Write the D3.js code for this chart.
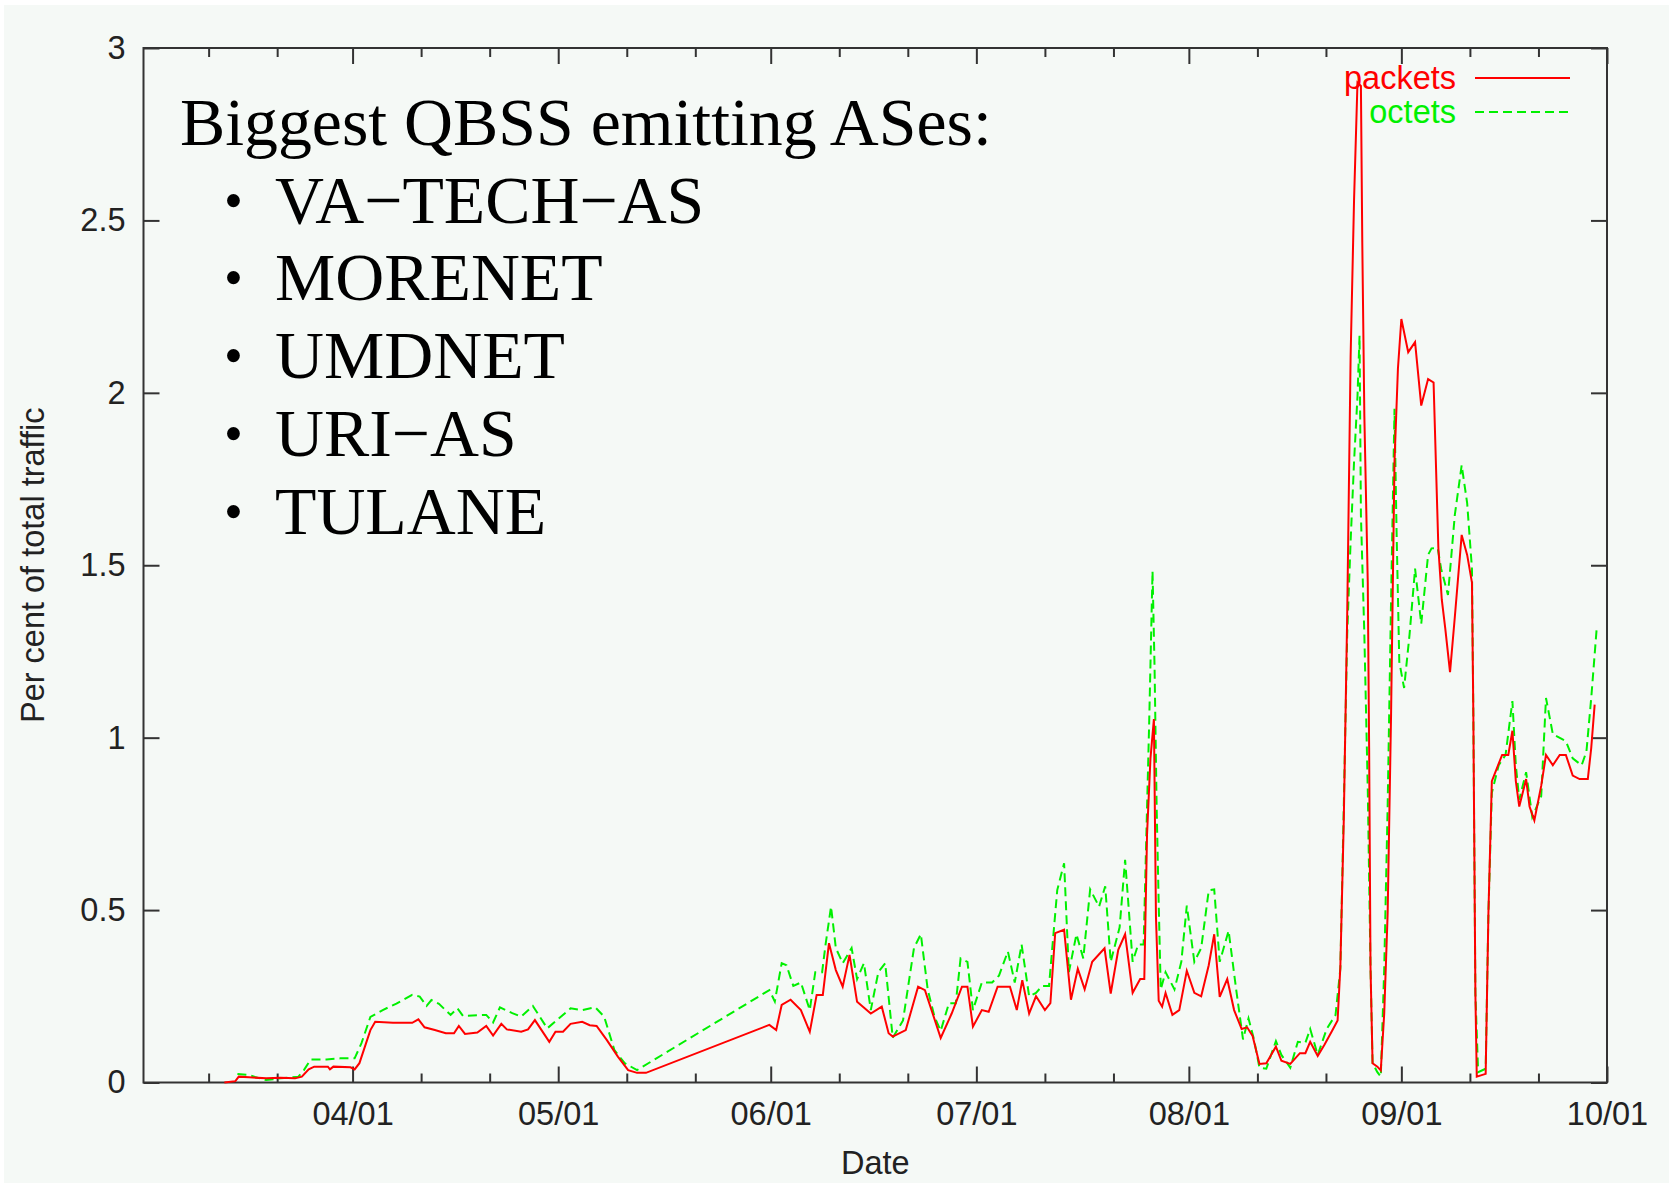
<!DOCTYPE html>
<html>
<head>
<meta charset="utf-8">
<script src="https://cdn.jsdelivr.net/npm/d3@7"></script>
<style>
  body { margin: 0; background: #ffffff; }
  svg { display: block; }
</style>
</head>
<body>
<div id="chart"></div>
<script>
// Days after 1 April (2003)
var packetDays = [-18.7, -17.1, -16.6, -15.1, -12.6, -10.5, -8.4, -7.4, -6.4, -5.6,
  -3.6, -3.3, -2.8, -0.3, 0.3, 1.0, 1.8, 2.6, 3.3, 5.9,
  8.7, 9.6, 10.5, 12.0, 13.6, 14.8, 15.5, 16.4, 18.2, 19.5,
  20.5, 21.7, 22.5, 24.6, 25.6, 26.6, 28.7, 29.6, 30.7, 31.8,
  33.5, 34.6, 35.6, 37.1, 38.7, 40.2, 41.5, 42.8,
  60.8, 61.8, 62.6, 63.9, 65.4, 66.7, 67.7, 68.6, 69.5, 70.5,
  71.5, 72.5, 73.6, 75.6, 77.2, 78.2, 78.8, 80.7, 82.5, 83.5,
  85.8, 87.4, 88.9, 89.7, 90.5, 91.8, 92.8, 94.1, 95.9, 96.9,
  97.7, 98.7, 99.7, 101.0, 101.8, 102.5, 103.8, 104.8, 105.8, 106.8,
  107.9, 109.7, 110.6, 111.7, 112.7, 113.8, 114.9, 115.5, 115.9, 116.4,
  116.9, 117.2, 117.6, 118.1, 118.6, 119.6, 120.6, 121.7, 122.8, 123.8,
  124.9, 125.7, 126.5, 127.6, 128.6, 129.7, 130.5, 131.3, 132.3, 133.3,
  134.7, 135.5, 136.8, 138.2, 139.0, 139.7, 140.8, 141.8, 142.9, 143.7,
  144.1, 144.6, 145.1, 145.6, 146.1, 146.6, 147.1, 147.3, 147.6, 148.1,
  148.3, 148.5, 148.8, 149.5, 150.0, 150.5, 151.0, 151.5, 152.0, 152.5,
  153.0, 154.0, 155.0, 155.9, 156.9, 157.7, 158.4, 158.9, 159.4, 160.1,
  160.8, 161.8, 162.6, 163.3, 163.5, 163.8, 164.0, 165.3, 165.7, 166.2,
  167.7, 168.6, 169.2, 169.7, 170.2, 171.2, 171.7, 172.4, 173.4, 174.1,
  175.1, 176.1, 177.0, 178.0, 179.0, 180.2, 180.7, 181.2];
var packets = [0.0, 0.004, 0.017, 0.015, 0.012, 0.014, 0.012, 0.017, 0.038, 0.046,
  0.046, 0.038, 0.046, 0.044, 0.038, 0.056, 0.104, 0.152, 0.176, 0.173,
  0.173, 0.183, 0.16, 0.152, 0.143, 0.143, 0.164, 0.141, 0.145, 0.164,
  0.136, 0.17, 0.154, 0.147, 0.154, 0.181, 0.118, 0.147, 0.147, 0.17,
  0.176, 0.166, 0.164, 0.123, 0.075, 0.036, 0.028, 0.028,
  0.167, 0.152, 0.225, 0.24, 0.21, 0.147, 0.254, 0.254, 0.404, 0.326,
  0.278, 0.37, 0.234, 0.2, 0.22, 0.143, 0.133, 0.152, 0.278, 0.268,
  0.129, 0.2, 0.278, 0.278, 0.162, 0.21, 0.205, 0.278, 0.278, 0.21,
  0.297, 0.2, 0.25, 0.21, 0.23, 0.433, 0.443, 0.24, 0.33, 0.27,
  0.35, 0.389, 0.258, 0.385, 0.43, 0.26, 0.3, 0.3, 0.72, 0.94,
  1.054, 0.48, 0.237, 0.22, 0.26, 0.196, 0.21, 0.324, 0.26, 0.25,
  0.34, 0.43, 0.248, 0.3, 0.21, 0.155, 0.16, 0.135, 0.054, 0.056,
  0.104, 0.063, 0.054, 0.085, 0.085, 0.118, 0.077, 0.11, 0.15, 0.18,
  0.335, 0.76, 1.356, 2.108, 2.56, 2.9, 2.89, 2.435, 1.935, 1.45,
  0.97, 0.335, 0.056, 0.046, 0.035, 0.2, 0.49, 1.067, 1.8, 2.07,
  2.214, 2.118, 2.147, 1.963, 2.04, 2.03, 1.55, 1.4, 1.318, 1.19,
  1.35, 1.588, 1.53, 1.45, 1.07, 0.258, 0.017, 0.025, 0.49, 0.874,
  0.95, 0.95, 1.02, 0.874, 0.8, 0.88, 0.8, 0.76, 0.86, 0.95,
  0.92, 0.95, 0.95, 0.89, 0.88, 0.88, 0.97, 1.096];

var octetDays = [-16.8, -15.1, -14.1, -12.6, -10.5, -7.9, -7.1, -6.1, -3.8, -1.8,
  0.3, 1.3, 2.6, 4.4, 6.4, 8.7, 9.8, 10.8, 11.5, 12.6,
  14.3, 15.3, 16.1, 19.5, 20.5, 21.5, 23.3, 24.6, 26.3, 28.4,
  29.7, 31.8, 33.5, 35.4, 36.7, 38.2, 39.7, 41.5,
  60.8, 61.6, 62.6, 63.3, 64.3, 65.4, 66.7, 67.5, 68.5, 69.0,
  69.8, 70.5, 71.5, 72.8, 73.6, 74.6, 75.6, 76.7, 77.7, 78.8,
  80.3, 81.9, 82.9, 83.9, 84.9, 85.8, 87.0, 88.0, 88.7, 89.7,
  90.5, 91.8, 93.3, 94.3, 95.6, 96.6, 97.6, 98.7, 99.7, 100.6,
  101.6, 102.8, 103.8, 104.5, 105.6, 106.6, 107.6, 108.9, 109.8, 110.6,
  111.9, 112.7, 113.8, 114.6, 115.4, 116.2, 116.7, 117.0, 117.3, 117.6,
  117.9, 118.6, 119.9, 120.9, 121.7, 122.8, 123.8, 124.9, 125.7, 126.5,
  127.8, 128.9, 129.9, 130.7, 131.5, 132.3, 133.3, 134.7, 135.5, 136.8,
  137.9, 139.0, 139.7, 140.8, 142.1, 143.4, 144.1, 144.6, 145.1, 145.6,
  146.1, 146.6, 146.9, 147.1, 147.6, 148.1, 148.5, 148.8, 149.5, 150.0,
  150.5, 151.0, 151.5, 152.0, 152.3, 152.7, 153.4, 154.2, 155.0, 155.9,
  156.9, 157.4, 158.3, 158.8, 159.8, 160.8, 161.8, 162.6, 163.3, 163.5,
  163.8, 164.2, 165.3, 165.7, 166.2, 167.2, 168.2, 169.2, 169.7, 170.2,
  171.2, 172.1, 173.4, 174.1, 175.1, 177.0, 178.0, 179.3, 180.0, 180.7,
  181.5];
var octets = [0.025, 0.022, 0.015, 0.007, 0.012, 0.017, 0.036, 0.067, 0.067, 0.07,
  0.07, 0.114, 0.19, 0.21, 0.229, 0.254, 0.249, 0.222, 0.239, 0.228,
  0.196, 0.215, 0.193, 0.196, 0.174, 0.218, 0.201, 0.191, 0.222, 0.157,
  0.179, 0.215, 0.21, 0.218, 0.191, 0.094, 0.056, 0.036,
  0.268, 0.235, 0.346, 0.34, 0.28, 0.29, 0.21, 0.32, 0.32, 0.4,
  0.51, 0.39, 0.346, 0.39, 0.3, 0.346, 0.21, 0.32, 0.346, 0.13,
  0.18, 0.39, 0.43, 0.27, 0.19, 0.15, 0.23, 0.23, 0.36, 0.35,
  0.21, 0.29, 0.29, 0.31, 0.38, 0.29, 0.4, 0.25, 0.26, 0.28,
  0.28, 0.558, 0.636, 0.32, 0.43, 0.36, 0.56, 0.51, 0.569, 0.35,
  0.45, 0.646, 0.35, 0.4, 0.4, 1.034, 1.483, 1.2, 0.8, 0.52,
  0.27, 0.32, 0.27, 0.35, 0.513, 0.35, 0.39, 0.557, 0.56, 0.35,
  0.44, 0.27, 0.125, 0.186, 0.125, 0.043, 0.04, 0.12, 0.08, 0.043,
  0.118, 0.115, 0.155, 0.08, 0.155, 0.196, 0.33, 0.8, 1.3, 1.57,
  1.8, 1.99, 2.166, 1.646, 1.3, 0.85, 0.335, 0.056, 0.03, 0.017,
  0.33, 0.8, 1.4, 1.954, 1.6, 1.22, 1.144, 1.3, 1.49, 1.33,
  1.53, 1.549, 1.55, 1.49, 1.414, 1.646, 1.79, 1.68, 1.49, 1.07,
  0.258, 0.03, 0.04, 0.49, 0.84, 0.92, 0.95, 1.106, 0.92, 0.82,
  0.9, 0.77, 0.83, 1.115, 1.01, 0.99, 0.94, 0.92, 0.96, 1.115,
  1.318];

var yTicks = [0, 0.5, 1, 1.5, 2, 2.5, 3];
var xTickLabels = ["04/01", "05/01", "06/01", "07/01", "08/01", "09/01", "10/01"];
var seriesNames = ["packets", "octets"];
var noteTitle = "Biggest QBSS emitting ASes:";
var noteItems = ["VA\u2212TECH\u2212AS", "MORENET", "UMDNET", "URI\u2212AS", "TULANE"];

var svgWidth = 1669;
var svgHeight = 1188;
var margin = { top: 48, right: 62, bottom: 105.5, left: 143.5 };
var width = svgWidth - margin.left - margin.right;
var height = svgHeight - margin.top - margin.bottom;

var axisColor = "#333333";
var textColor = "#222222";
var sansFont = "'Liberation Sans', Arial, Helvetica, sans-serif";
var serifFont = "'Liberation Serif', 'Times New Roman', serif";
var sansSize = "32.5px";

var start = new Date(2003, 3, 1);
function toDate(d) {
  return new Date(start.getTime() + d * 86400000);
}

var svg = d3.select("#chart")
  .append("svg")
  .attr("width", svgWidth)
  .attr("height", svgHeight);

// pale page with a thin white frame on top, left and bottom
svg.append("rect")
  .attr("x", 4).attr("y", 5)
  .attr("width", svgWidth - 4).attr("height", svgHeight - 10)
  .attr("fill", "#f5f9f6");

var chartGroup = svg.append("g")
  .attr("transform", `translate(${margin.left}, ${margin.top})`);

var xScale = d3.scaleTime()
  .domain([new Date(2003, 2, 1, 12), new Date(2003, 9, 1)])
  .range([0, width]);

var yScale = d3.scaleLinear()
  .domain([0, 3])
  .range([height, 0]);

var majorDates = xTickLabels.map(function(s, i) { return new Date(2003, 3 + i, 1); });
var minorDates = [];
for (var m = 2; m <= 8; m++) {
  minorDates.push(new Date(2003, m, 11));
  minorDates.push(new Date(2003, m, 21));
}
var fmtDate = d3.timeFormat("%m/%d");

function styleAxis(g, showText) {
  g.select(".domain").remove();
  g.selectAll("line").attr("stroke", axisColor).attr("stroke-width", 2);
  g.selectAll("text")
    .attr("fill", textColor)
    .style("font-family", sansFont)
    .style("font-size", sansSize)
    .style("display", showText ? null : "none");
}

// bottom axis: major ticks with labels, minor ticks without
chartGroup.append("g")
  .attr("transform", `translate(0, ${height})`)
  .call(d3.axisBottom(xScale).tickValues(majorDates).tickFormat(fmtDate)
    .tickSizeInner(-16).tickSizeOuter(0).tickPadding(19))
  .call(styleAxis, true);
chartGroup.append("g")
  .attr("transform", `translate(0, ${height})`)
  .call(d3.axisBottom(xScale).tickValues(minorDates).tickFormat("")
    .tickSizeInner(-9).tickSizeOuter(0))
  .call(styleAxis, false);

// mirrored top ticks
chartGroup.append("g")
  .call(d3.axisTop(xScale).tickValues(majorDates).tickFormat("")
    .tickSizeInner(-16).tickSizeOuter(0))
  .call(styleAxis, false);
chartGroup.append("g")
  .call(d3.axisTop(xScale).tickValues(minorDates).tickFormat("")
    .tickSizeInner(-9).tickSizeOuter(0))
  .call(styleAxis, false);

// left axis and mirrored right ticks
chartGroup.append("g")
  .call(d3.axisLeft(yScale).tickValues(yTicks).tickFormat(function(d) { return String(d); })
    .tickSizeInner(-16).tickSizeOuter(0).tickPadding(18))
  .call(styleAxis, true);
chartGroup.append("g")
  .attr("transform", `translate(${width}, 0)`)
  .call(d3.axisRight(yScale).tickValues(yTicks).tickFormat("")
    .tickSizeInner(-16).tickSizeOuter(0))
  .call(styleAxis, false);

// plot frame
chartGroup.append("rect")
  .attr("width", width)
  .attr("height", height)
  .attr("fill", "none")
  .attr("stroke", axisColor)
  .attr("stroke-width", 2);

// axis titles
chartGroup.append("text")
  .attr("x", width / 2)
  .attr("y", height + 91)
  .attr("text-anchor", "middle")
  .attr("fill", textColor)
  .style("font-family", sansFont)
  .style("font-size", sansSize)
  .text("Date");

chartGroup.append("text")
  .attr("transform", `translate(${44 - margin.left}, ${height / 2}) rotate(-90)`)
  .attr("text-anchor", "middle")
  .attr("fill", textColor)
  .style("font-family", sansFont)
  .style("font-size", sansSize)
  .text("Per cent of total traffic");

// the two series
var packetData = packetDays.map(function(d, i) { return { date: toDate(d), value: packets[i] }; });
var octetData = octetDays.map(function(d, i) { return { date: toDate(d), value: octets[i] }; });

var line = d3.line()
  .x(d => xScale(d.date))
  .y(d => yScale(d.value));

chartGroup.append("path")
  .datum(octetData)
  .attr("d", line)
  .attr("fill", "none")
  .attr("stroke", "#00f000")
  .attr("stroke-width", 2)
  .attr("stroke-dasharray", "9,5");

chartGroup.append("path")
  .datum(packetData)
  .attr("d", line)
  .attr("fill", "none")
  .attr("stroke", "#ff0000")
  .attr("stroke-width", 2);

// legend
var legendColors = ["#ff0000", "#00f000"];
var legendDash = [null, "9,5"];
seriesNames.forEach(function(name, i) {
  var row = chartGroup.append("g")
    .attr("transform", `translate(0, ${30 + i * 34})`);
  row.append("text")
    .attr("x", 1456 - margin.left)
    .attr("y", 11)
    .attr("text-anchor", "end")
    .attr("fill", legendColors[i])
    .style("font-family", sansFont)
    .style("font-size", sansSize)
    .text(name);
  row.append("line")
    .attr("x1", 1475 - margin.left)
    .attr("x2", 1570 - margin.left)
    .attr("stroke", legendColors[i])
    .attr("stroke-width", 2)
    .attr("stroke-dasharray", legendDash[i]);
});

// annotation in the upper left
var note = svg.append("g")
  .style("font-family", serifFont)
  .attr("fill", "#000000");

note.append("text")
  .attr("x", 180)
  .attr("y", 145)
  .style("font-size", "67.8px")
  .text(noteTitle);

noteItems.forEach(function(item, i) {
  var baseY = 222.7 + i * 77.7;
  note.append("text")
    .attr("x", 224)
    .attr("y", baseY - 4)
    .style("font-size", "54px")
    .text("\u2022");
  note.append("text")
    .attr("x", 275)
    .attr("y", baseY)
    .style("font-size", "67.8px")
    .text(item);
});
</script>
</body>
</html>
